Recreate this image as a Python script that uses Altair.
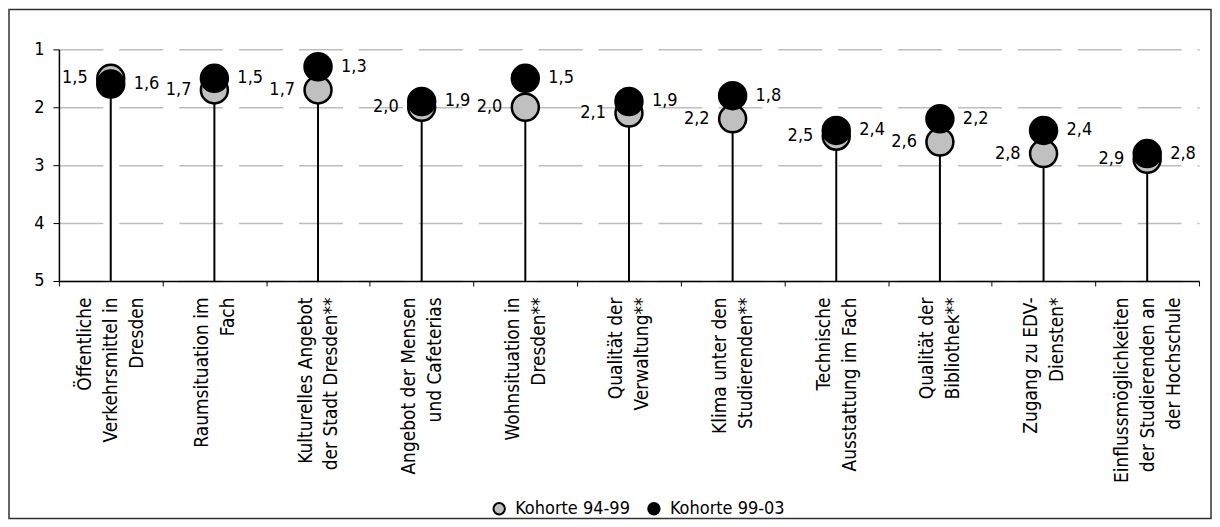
import altair as alt
import pandas as pd

FONT = "DejaVu Sans Condensed, Liberation Sans Narrow, Arial Narrow, sans-serif"

categories = [
    "Öffentliche|Verkehrsmittel in|Dresden",
    "Raumsituation im|Fach",
    "Kulturelles Angebot|der Stadt Dresden**",
    "Angebot der Mensen|und Cafeterias",
    "Wohnsituation in|Dresden**",
    "Qualität der|Verwaltung**",
    "Klima unter den|Studierenden**",
    "Technische|Ausstattung im Fach",
    "Qualität der|Bibliothek**",
    "Zugang zu EDV-|Diensten*",
    "Einflussmöglichkeiten|der Studierenden an|der Hochschule",
]
kohorte_94_99 = [1.5, 1.7, 1.7, 2.0, 2.0, 2.1, 2.2, 2.5, 2.6, 2.8, 2.9]
kohorte_99_03 = [1.6, 1.5, 1.3, 1.9, 1.5, 1.9, 1.8, 2.4, 2.2, 2.4, 2.8]
series_names = ["Kohorte 94-99", "Kohorte 99-03"]
series_colors = ["#c0c0c0", "#000000"]
y_ticks = [1, 2, 3, 4, 5]

W, H = 1142, 232
LH = 26

wide = pd.DataFrame({"cat": categories, "k94": kohorte_94_99, "k99": kohorte_99_03})
rows = []
for name, vals in zip(series_names, [kohorte_94_99, kohorte_99_03]):
    for c, v in zip(categories, vals):
        rows.append({"cat": c, "series": name, "value": v,
                     "label": f"{v:.1f}".replace(".", ",")})
long = pd.DataFrame(rows)

x_enc = alt.X(
    "cat:N",
    sort=categories,
    scale=alt.Scale(type="band", paddingInner=0, paddingOuter=0),
    axis=alt.Axis(
        title=None,
        labelAngle=-90,
        labelAlign="right",
        labelBaseline="middle",
        labelExpr="datum.value ? split(datum.value, '|') : ''",
        labelOffset={
            "condition": {
                "test": "datum.value && length(split(datum.value, '|')) >= 3",
                "value": -LH,
            },
            "value": -LH / 2,
        },
        labelFontSize=19,
        labelLineHeight=LH,
        labelPadding=11,
        labelLimit=0,
        labelColor="black",
        tickBand="extent",
        tickSize=5,
        tickColor="black",
        domainColor="black",
        domainWidth=1.5,
        grid=False,
    ),
)
y_scale = alt.Scale(domain=[1, 5], reverse=True, nice=False, zero=False)
y_axis = alt.Axis(
    title=None,
    values=y_ticks,
    format="d",
    grid=True,
    gridDash=[44, 16],
    gridColor="#bdbdbd",
    gridWidth=1.5,
    tickSize=6,
    tickColor="black",
    domainColor="black",
    domainWidth=1.5,
    labelPadding=9,
    labelFontSize=18,
    labelColor="black",
)

frame = alt.Chart(pd.DataFrame({"f": [0]})).mark_rect(
    fillOpacity=0, stroke="#333333", strokeWidth=1.5
).encode(
    x=alt.value(-50), x2=alt.value(W + 12),
    y=alt.value(-40), y2=alt.value(H + 238),
)

stems = alt.Chart(wide).mark_rule(color="black", strokeWidth=2).encode(
    x=x_enc,
    y=alt.Y("k94:Q", scale=y_scale, axis=y_axis),
    y2=alt.datum(5),
)

points = alt.Chart(long).mark_circle(
    stroke="black", strokeWidth=2.5, size=730, opacity=1
).encode(
    x=x_enc,
    y=alt.Y("value:Q", scale=y_scale, axis=y_axis),
    color=alt.Color(
        "series:N",
        scale=alt.Scale(domain=series_names, range=series_colors),
        legend=alt.Legend(
            title=None,
            orient="none",
            legendX=432,
            legendY=451,
            direction="horizontal",
            symbolType="circle",
            symbolSize=130,
            symbolStrokeColor="black",
            symbolStrokeWidth=2,
            symbolOpacity=1,
            labelFontSize=18,
            labelColor="black",
            labelOffset=7,
            columnPadding=14,
            padding=0,
        ),
    ),
)

labels_left = alt.Chart(long).transform_filter(
    alt.datum.series == series_names[0]
).mark_text(align="right", baseline="middle", dx=-23, fontSize=18, color="black").encode(
    x=x_enc, y=alt.Y("value:Q", scale=y_scale, axis=y_axis), text="label:N"
)

labels_right = alt.Chart(long).transform_filter(
    alt.datum.series == series_names[1]
).mark_text(align="left", baseline="middle", dx=23, fontSize=18, color="black").encode(
    x=x_enc, y=alt.Y("value:Q", scale=y_scale, axis=y_axis), text="label:N"
)

chart = alt.layer(frame, stems, points, labels_left, labels_right).properties(
    width=W, height=H, padding=0
).configure(font=FONT).configure_view(stroke=None)

chart.save("out.html", embed_options={"renderer": "svg", "actions": False})
